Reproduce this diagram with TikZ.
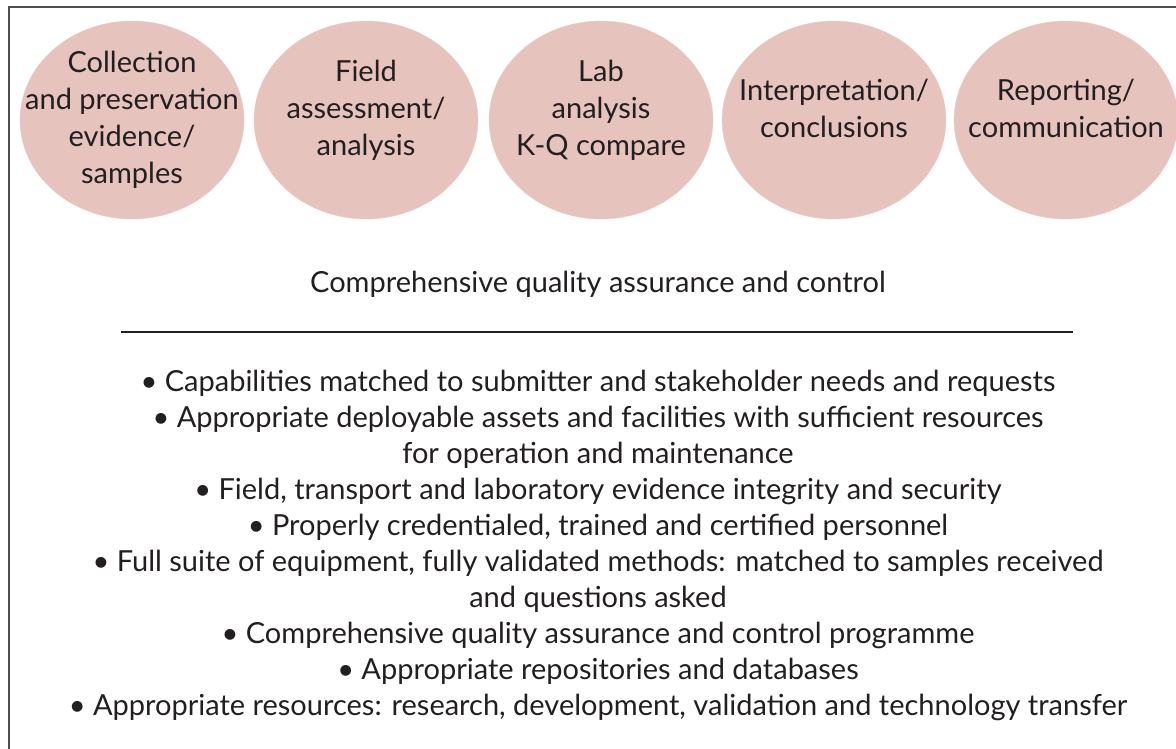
\documentclass[tikz,border=0pt]{standalone}
\usepackage{fontspec}
\setmainfont{Lato}
\usetikzlibrary{shapes.geometric, positioning}
\definecolor{stagefill}{RGB}{230,195,189}
\definecolor{inkgray}{RGB}{35,31,32}
\tikzstyle{stage} = [ellipse, fill=stagefill, draw=stagefill!80!white, minimum width=224pt, minimum height=198pt, inner sep=0pt]
\tikzstyle{stagetext} = [text=inkgray, align=center, font=\fontsize{29}{37}\selectfont]
\tikzstyle{listtext} = [text=inkgray, align=center, font=\fontsize{29}{36}\selectfont]

\begin{document}
\begin{tikzpicture}[x=1pt, y=-1pt]
	\useasboundingbox (0,0) rectangle (1176,749);
	\draw[line width=1.5pt, draw=inkgray!80] (9,7) rectangle (1185,760);
	% the five stages
	\node[stage] (collect) at (132,120) {};
	\node[stage] (field) at (366,120) {};
	\node[stage] (lab) at (601,120) {};
	\node[stage] (interp) at (834,120) {};
	\node[stage] (report) at (1066,120) {};
	\node[stagetext] (collecttxt) at (collect.center) {Collection\\and preservation\\evidence/\\samples};
	\node[stagetext] (fieldtxt) at (366,110) {Field\\assessment/\\analysis};
	\node[stagetext] (labtxt) at (601,110) {Lab\\analysis\\K-Q compare};
	\node[stagetext] (interptxt) at (834,108) {Interpretation/\\conclusions};
	\node[stagetext] (reporttxt) at (1066,108) {Reporting/\\communication};
	% quality assurance
	\node[listtext] (qa) at (598,284) {Comprehensive quality assurance and control};
	\coordinate (ruleL) at (121,332);
	\coordinate (ruleR) at (1073,332);
	\draw[line width=1.2pt, inkgray] (ruleL) -- (ruleR);
	\node[listtext] (needs) at (598,545) {%
		\textbullet\ Capabilities matched to submitter and stakeholder needs and requests\\
		\textbullet\ Appropriate deployable assets and facilities with sufficient resources\\
		for operation and maintenance\\
		\textbullet\ Field, transport and laboratory evidence integrity and security\\
		\textbullet\ Properly credentialed, trained and certified personnel\\
		\textbullet\ Full suite of equipment, fully validated methods: matched to samples received\\
		and questions asked\\
		\textbullet\ Comprehensive quality assurance and control programme\\
		\textbullet\ Appropriate repositories and databases\\
		\textbullet\ Appropriate resources: research, development, validation and technology transfer};
\end{tikzpicture}
\end{document}
